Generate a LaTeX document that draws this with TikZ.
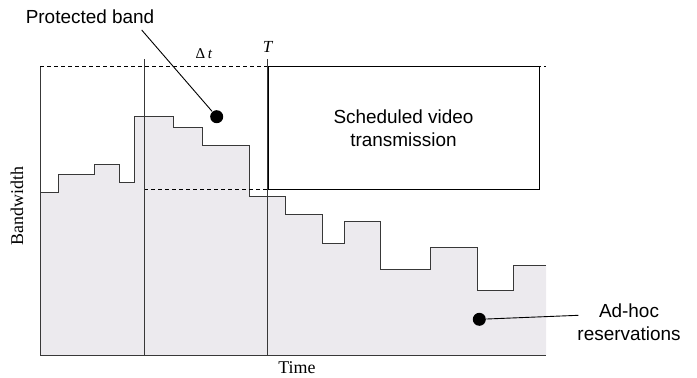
\documentclass[tikz,border=0pt]{standalone}
\usepackage{fontspec}
\setmainfont{Liberation Serif}
\newfontfamily\sansfont{Liberation Sans}
\usepackage{tikz}
\usetikzlibrary{positioning,calc}

\definecolor{loadfill}{HTML}{ECEAEE}
\definecolor{linegray}{HTML}{383838}

\begin{document}
\begin{tikzpicture}[x=1bp,y=-1bp,
      line width=0.9bp,
      every node/.style={inner sep=0pt},
      axis/.style={draw=linegray},
      guide/.style={draw=black,dash pattern=on 4bp off 3bp},
      dot/.style={circle,fill=black,minimum size=13bp},
      note/.style={font=\sansfont\fontsize{19}{22}\selectfont,align=center},
      tag/.style={font=\fontsize{18}{20}\selectfont}
    ]
    \useasboundingbox (0,0) rectangle (697,377);

    % the ad-hoc load, filled down to the time axis
    \fill[loadfill] (40,192.7) -| (58.3,174) -| (94.7,164) -| (119.3,182.3)
      -| (134,116.7) -| (173.3,127.3) -| (202.3,145.7) -| (249.3,196.7)
      -| (285.7,214) -| (322,243) -| (344,221.7) -| (380,269) -| (430.7,247.3)
      -| (477.3,290) -| (513.3,265.3) -- (546,265.3) -- (546,355) -- (40,355) -- cycle;
    \draw[axis] (40,192.7) -| (58.3,174) -| (94.7,164) -| (119.3,182.3)
      -| (134,116.7) -| (173.3,127.3) -| (202.3,145.7) -| (249.3,196.7)
      -| (285.7,214) -| (322,243) -| (344,221.7) -| (380,269) -| (430.7,247.3)
      -| (477.3,290) -| (513.3,265.3) -- (546,265.3);

    % the axes
    \draw[axis] (40,66.7) -- (40,355) -- (546,355);
    \node[tag,rotate=90] (bw) at (17,206) {Bandwidth};
    \node[tag] (time) at (297,368) {Time};

    % the band limits
    \draw[guide] (40,66.7) -- (546,66.7);
    \draw[guide] (144.3,189.3) -- (268,189.3);
    \draw[axis] (144.3,59) -- (144.3,355);
    \draw[axis] (267.7,59) -- (267.7,355);
    \node[tag,font=\fontsize{15}{17}\selectfont] (dt) at (204,54) {Δ\,\textit{t}};
    \node[tag,font=\fontsize{17}{19}\selectfont] (T) at (268,47) {\textit{T}};

    % the scheduled block
    \node[note,draw=black,fill=white,minimum width=271bp,minimum height=122.6bp]
      (sched) at (403.5,128) {Scheduled video\\[1bp]transmission};

    % the callouts
    \node[dot] (pdot) at (216.7,116.7) {};
    \node[note] (band) at (90,17) {Protected band};
    \coordinate (bandtip) at (141.7,30);
    \draw (bandtip) -- (pdot);

    \node[dot] (adot) at (479.3,319.3) {};
    \node[note] (adhoc) at (629,322) {Ad-hoc\\[1bp]reservations};
    \coordinate (adhoctip) at (578.3,315.3);
    \draw (adot) -- (adhoctip);
\end{tikzpicture}
\end{document}
